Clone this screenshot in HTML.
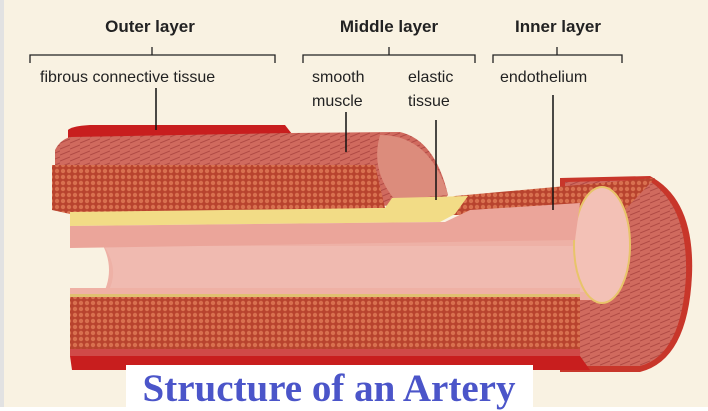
<!DOCTYPE html>
<html><head><style>
body{margin:0;width:708px;height:411px;overflow:hidden;background:#fff;}
svg{display:block}
text{font-family:"Liberation Sans",Arial,sans-serif;fill:#222}
</style></head><body>
<svg width="708" height="411" viewBox="0 0 708 411">
<defs>
<pattern id="dots" width="6" height="6" patternUnits="userSpaceOnUse">
<rect width="6" height="6" fill="#b8432e"/><circle cx="3" cy="3" r="2.2" fill="#d8704f"/>
</pattern>
<pattern id="fib" width="10" height="6" patternUnits="userSpaceOnUse">
<rect width="10" height="6" fill="#d06a5e"/><path d="M0 5 L10 1" stroke="#b04a44" stroke-width="1"/>
</pattern>
</defs>
<rect x="0" y="0" width="708" height="407" fill="#f9f2e2"/>
<rect x="0" y="0" width="4" height="407" fill="#e2e2e2"/>

<text x="150" y="32" font-size="17" font-weight="bold" text-anchor="middle">Outer layer</text>
<text x="389" y="32" font-size="17" font-weight="bold" text-anchor="middle">Middle layer</text>
<text x="558" y="32" font-size="17" font-weight="bold" text-anchor="middle">Inner layer</text>
<g stroke="#222" stroke-width="1.3" fill="none">
<path d="M30 63 V55 H275 V63 M152 55 V47"/>
<path d="M303 63 V55 H475 V63 M389 55 V47"/>
<path d="M493 63 V55 H622 V63 M557 55 V47"/>
</g>
<text x="40" y="82" font-size="16">fibrous connective tissue</text>
<text x="312" y="82" font-size="16">smooth</text>
<text x="312" y="106" font-size="16">muscle</text>
<text x="408" y="82" font-size="16">elastic</text>
<text x="408" y="106" font-size="16">tissue</text>
<text x="500" y="82" font-size="16">endothelium</text>

<!-- right end cross section outer -->
<path d="M560 178 L650 176 Q695 200 692 275 Q688 360 640 372 L560 372 Z" fill="#c8362a"/>
<path d="M565 182 L648 180 Q688 205 686 275 Q682 355 640 366 L565 366 Z" fill="url(#fib)"/>
<!-- top far wall -->
<path d="M440 200 L455 196 L655 178 L620 215 L440 215 Z" fill="url(#dots)"/>
<!-- lumen -->
<path d="M100 240 L600 240 L600 300 L100 300 Q118 270 100 240 Z" fill="#eeb1a6"/>
<path d="M104 246 L590 246 L590 292 L108 292 Q120 270 104 246 Z" fill="#f0bab0"/>
<!-- inner opening -->
<ellipse cx="602" cy="245" rx="28" ry="58" fill="#f3c1b6" stroke="#e8c46a" stroke-width="2"/>
<!-- top outer red -->
<path d="M68 130 Q72 126 90 125 L285 125 L292 134 L68 138 Z" fill="#c81e1e"/>
<!-- top muscle band -->
<path d="M55 150 Q60 140 70 137 L290 133 L400 132 Q435 140 448 195 L440 205 L55 210 Z" fill="url(#fib)"/>
<path d="M380 135 Q430 135 448 195 L395 200 Q370 170 380 135 Z" fill="#dc8c7c"/>
<!-- dense red top -->
<path d="M52 165 L375 165 L385 208 L70 214 L52 210 Z" fill="url(#dots)"/>
<!-- yellow elastic -->
<path d="M70 212 L385 208 L392 198 L468 196 L455 214 L440 222 L70 226 Z" fill="#f2dc86"/>
<path d="M70 226 L445 222 L470 210 L580 203 L575 240 L70 248 Z" fill="#eba59a"/>
<!-- bottom wall -->
<rect x="70" y="288" width="510" height="8" fill="#efb1a5"/>
<rect x="70" y="294" width="510" height="3" fill="#e0c070"/>
<rect x="70" y="297" width="510" height="52" fill="url(#dots)"/>
<rect x="70" y="349" width="510" height="7" fill="#d04a48"/>
<path d="M70 356 L580 356 L590 370 L72 370 Z" fill="#c81e1e"/>
<g stroke="#111" stroke-width="1.5">
<line x1="156" y1="88" x2="156" y2="130"/>
<line x1="346" y1="112" x2="346" y2="152"/>
<line x1="436" y1="120" x2="436" y2="200"/>
<line x1="553" y1="95" x2="553" y2="210"/>
</g>
<rect x="126" y="365" width="407" height="46" fill="#fff"/>
<text x="329" y="401" font-size="39" font-weight="bold" text-anchor="middle" style="font-family:'Liberation Serif',serif;fill:#4b55c9">Structure of an Artery</text>
</svg>
</body></html>
